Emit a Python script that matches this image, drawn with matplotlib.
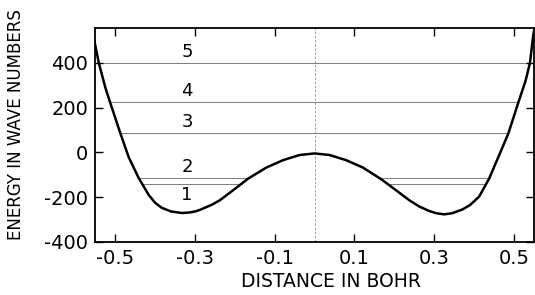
import numpy as np
import matplotlib
matplotlib.use("Agg")
import matplotlib.pyplot as plt

# Potential curve (distance in bohr, energy in cm^-1)
distance = [-0.553, -0.541, -0.524, -0.509, -0.487, -0.466, -0.441, -0.416,
            -0.400, -0.383, -0.360, -0.3325, -0.315, -0.299, -0.2875, -0.2575,
            -0.2375, -0.204, -0.167, -0.121, -0.079, -0.0375, 0.0,
            0.0375, 0.079, 0.121, 0.167, 0.204, 0.2375, 0.2625, 0.2875,
            0.305, 0.325, 0.345, 0.371, 0.390, 0.4125, 0.4375, 0.4625,
            0.486, 0.511, 0.529, 0.540, 0.548, 0.552]
energy = [505, 399, 285, 203, 85, -22, -115, -190,
          -225, -248, -264, -271, -269, -264, -257, -234,
          -214, -169, -118, -68, -35, -12, -5,
          -12, -35, -68, -120, -169, -214, -242, -262,
          -272, -277, -272, -255, -235, -198, -118, -14,
          85, 223, 319, 399, 519, 560]

# Energy levels
level_names = ["1", "2", "3", "4", "5"]
level_energy = [-140, -116, 86, 225, 400]

xticks = [-0.5, -0.3, -0.1, 0.1, 0.3, 0.5]
xtick_labels = ["-0.5", "-0.3", "-0.1", "0.1", "0.3", "0.5"]
yticks = [-400, -200, 0, 200, 400]
ytick_labels = ["-400", "-200", "0", "200", "400"]

fig = plt.figure(figsize=(5.35, 2.95), dpi=100)
ax = fig.add_axes([0.178, 0.18, 0.820, 0.725])

x = np.array(distance)
e = np.array(energy)

# level lines: drawn where the level lies above the curve
def crossings(level):
    pts = []
    d = e - level
    for i in range(len(x) - 1):
        if d[i] == 0:
            pts.append(x[i])
        elif d[i] * d[i + 1] < 0:
            t = d[i] / (d[i] - d[i + 1])
            pts.append(x[i] + t * (x[i + 1] - x[i]))
    if d[-1] == 0:
        pts.append(x[-1])
    return pts

for name, lev in zip(level_names, level_energy):
    c = crossings(lev)
    for j in range(0, len(c) - 1, 2):
        ax.plot([c[j], c[j + 1]], [lev, lev], color="0.5", lw=0.75,
                solid_capstyle="butt", zorder=1)
    if name == "1":
        ax.annotate(name, (-0.32, lev), xytext=(0, -2), textcoords="offset points",
                    ha="center", va="top", fontsize=13)
    else:
        ax.annotate(name, (-0.32, lev), xytext=(0, 1.5), textcoords="offset points",
                    ha="center", va="bottom", fontsize=13)

ax.axvline(0, color="0.55", lw=0.6, ls=(0, (3, 2)), zorder=1)
ax.plot(x, e, color="black", lw=1.8, zorder=3, solid_joinstyle="round")

ax.set_xlim(-0.55, 0.55)
ax.set_ylim(-400, 555)
ax.set_xticks(xticks)
ax.set_xticklabels(xtick_labels)
ax.set_yticks(yticks)
ax.set_yticklabels(ytick_labels)
ax.tick_params(direction="in", length=6, width=1.0, top=True, right=True,
               labelsize=14, pad=5)
for s in ax.spines.values():
    s.set_linewidth(1.3)

ax.set_xlabel("DISTANCE IN BOHR", fontsize=13.5)
ax.xaxis.set_label_coords(0.537, -0.14)
ax.set_ylabel("ENERGY IN WAVE NUMBERS", fontsize=12)
ax.yaxis.set_label_coords(-0.16, 0.547)

fig.savefig("out.png", dpi=100, facecolor="white")
